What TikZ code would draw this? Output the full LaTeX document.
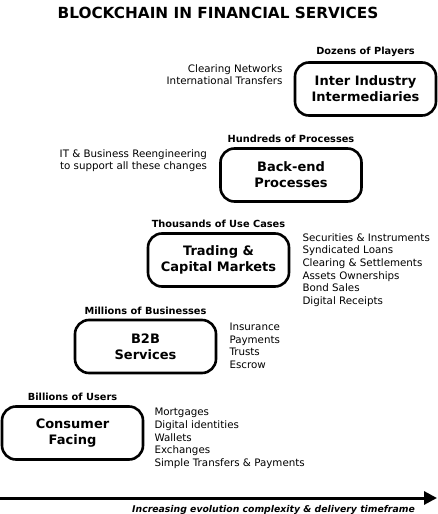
\documentclass[tikz,border=0pt]{standalone}
\usepackage{fontspec}
\setmainfont{DejaVu Sans}
\usetikzlibrary{positioning, arrows.meta}

\tikzset{
  stage/.style={draw, line width=2.6pt, rounded corners=14pt, minimum width=141pt,
    minimum height=53pt, align=center, font=\fontsize{13}{16}\selectfont\bfseries},
  scalelabel/.style={inner sep=0pt, font=\fontsize{9.8}{12}\selectfont\bfseries},
  uselist/.style={inner sep=0pt, font=\fontsize{10.3}{12.6}\selectfont},
}

\begin{document}
\begin{tikzpicture}[x=1pt, y=-1pt]
  \useasboundingbox (0,0) rectangle (437,514);

  % title
  \node[font=\fontsize{15.3}{18}\selectfont\bfseries] (title) at (218,13) {BLOCKCHAIN IN FINANCIAL SERVICES};

  % stages
  \node[stage] (inter) at (365.5,89) {Inter Industry\\Intermediaries};
  \node[stage] (backend) at (291,175) {Back-end\\Processes};
  \node[stage] (trading) at (218.5,260) {Trading \&\\Capital Markets};
  \node[stage] (btwob) at (145.5,346.5) {B2B\\Services};
  \node[stage] (consumer) at (72.5,433) {Consumer\\Facing};

  % scale of each stage
  \node[scalelabel, above=4pt of inter] (inter label) {Dozens of Players};
  \node[scalelabel, above=4pt of backend] (backend label) {Hundreds of Processes};
  \node[scalelabel, above=4pt of trading] (trading label) {Thousands of Use Cases};
  \node[scalelabel, above=4pt of btwob] (btwob label) {Millions of Businesses};
  \node[scalelabel, above=4pt of consumer] (consumer label) {Billions of Users};

  % use cases
  \node[uselist, align=right, anchor=north east] (inter list) at ([xshift=-11pt, yshift=-3pt]inter.north west)
    {Clearing Networks\\International Transfers};
  \node[uselist, align=right, anchor=north east] (backend list) at ([xshift=-12pt, yshift=-2pt]backend.north west)
    {IT \& Business Reengineering\\to support all these changes};
  \node[uselist, align=left, anchor=north west] (trading list) at ([xshift=12pt, yshift=-1pt]trading.north east)
    {Securities \& Instruments\\Syndicated Loans\\Clearing \& Settlements\\Assets Ownerships\\Bond Sales\\Digital Receipts};
  \node[uselist, align=left, anchor=north west] (btwob list) at ([xshift=12pt, yshift=-4pt]btwob.north east)
    {Insurance\\Payments\\Trusts\\Escrow};
  \node[uselist, align=left, anchor=north west] (consumer list) at ([xshift=10pt, yshift=-3pt]consumer.north east)
    {Mortgages\\Digital identities\\Wallets\\Exchanges\\Simple Transfers \& Payments};

  % timeline
  \coordinate (axis start) at (0,498);
  \coordinate (axis end) at (437,498);
  \draw[line width=3pt, -{Triangle[length=13pt, width=13pt]}] (axis start) -- (axis end);
  \node[inner sep=0pt, anchor=north east, font=\fontsize{9.3}{12}\selectfont\bfseries\itshape]
    (axis label) at ([xshift=-22pt, yshift=-7pt]axis end) {Increasing evolution complexity \& delivery timeframe};
\end{tikzpicture}
\end{document}
